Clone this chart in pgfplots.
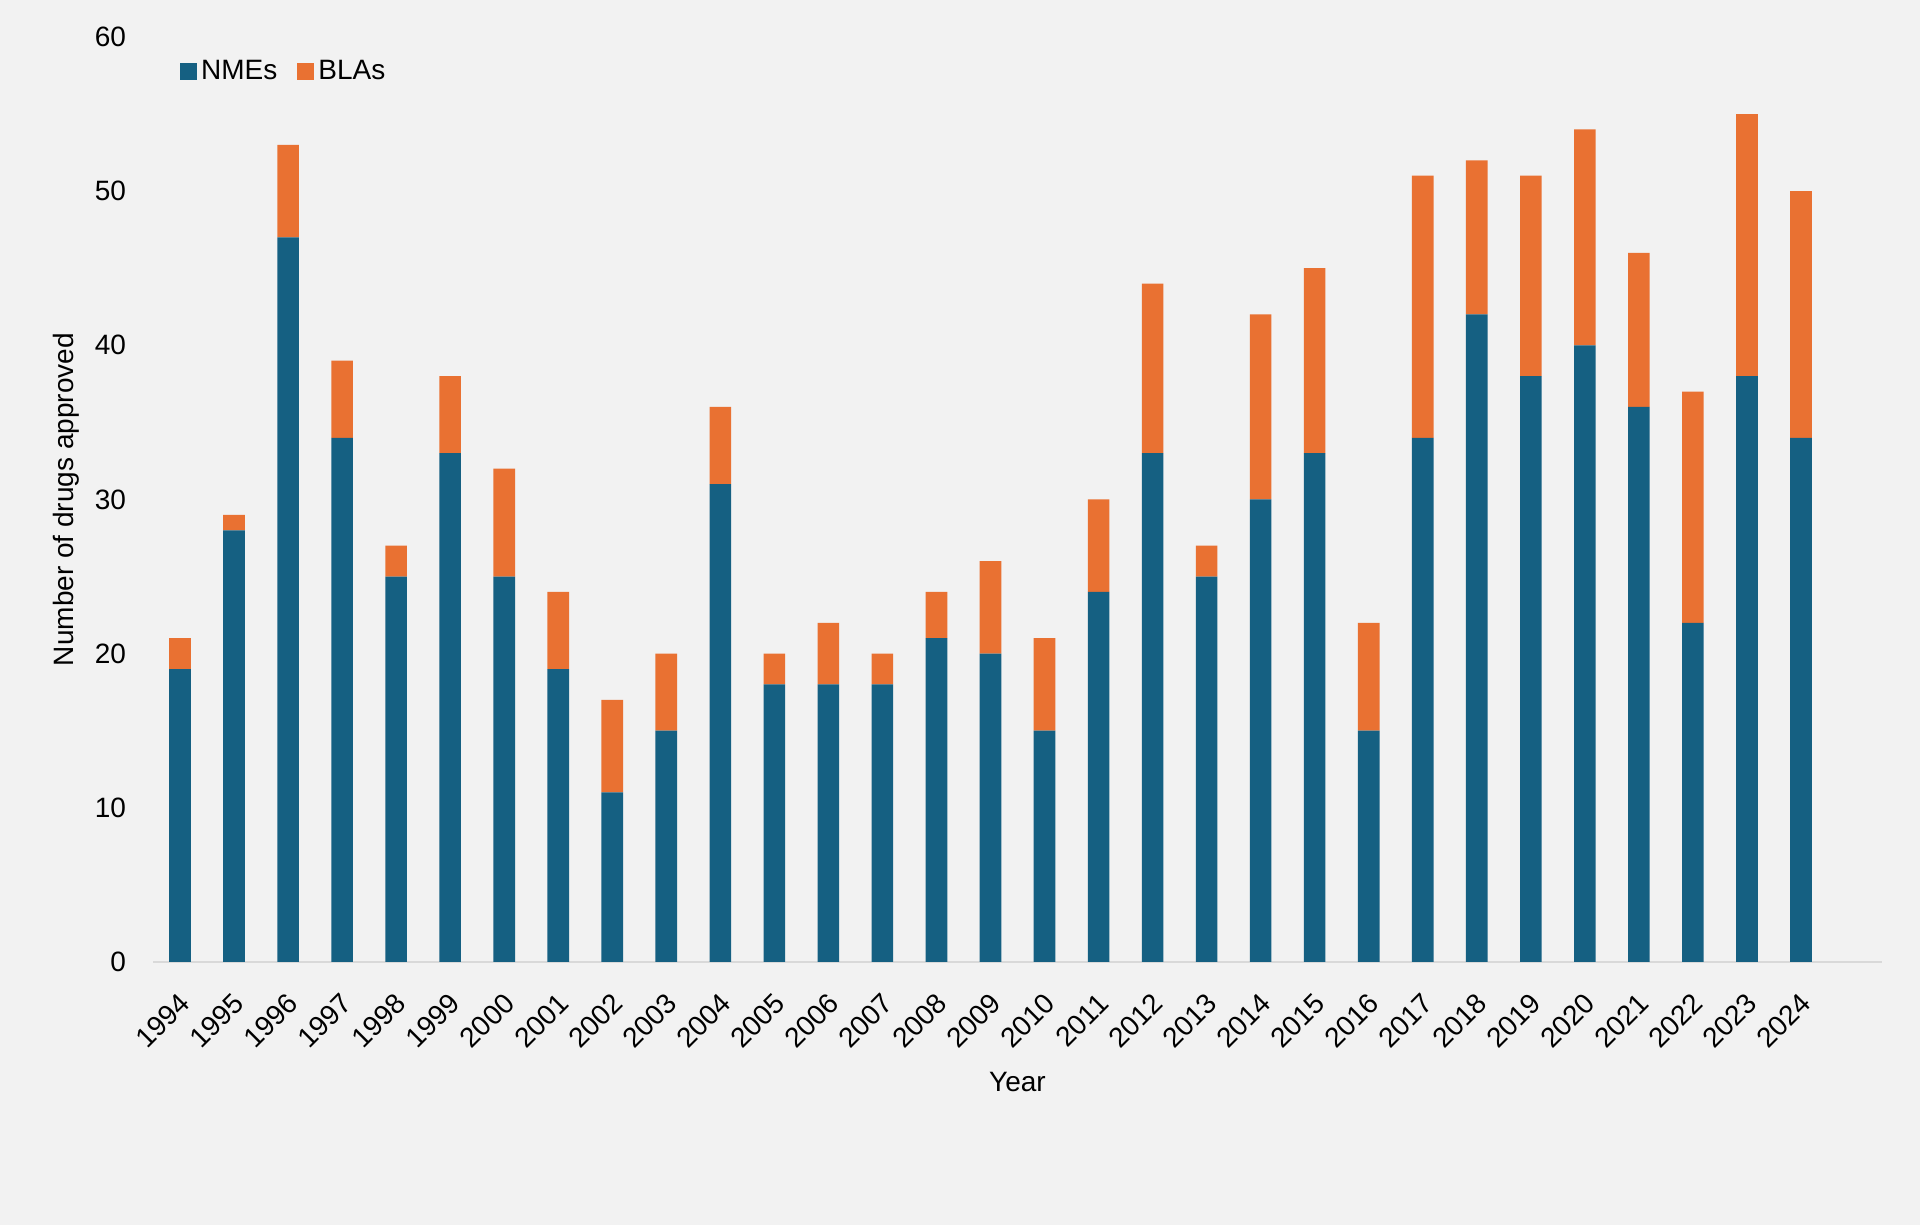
\documentclass[border=0pt]{standalone}
\usepackage{pgfplots}
\usepackage{pgfplotstable}
\pgfplotsset{compat=1.18}
\usepackage{fontspec}
\setmainfont{Liberation Sans}

\definecolor{nme}{HTML}{156082}
\definecolor{bla}{HTML}{E97132}
\definecolor{bg}{HTML}{F2F2F2}
\definecolor{axisgray}{HTML}{D9D9D9}

% NMEs and BLAs approved per year
\pgfplotstableread{
x year nme bla
0  1994 19 2
1  1995 28 1
2  1996 47 6
3  1997 34 5
4  1998 25 2
5  1999 33 5
6  2000 25 7
7  2001 19 5
8  2002 11 6
9  2003 15 5
10 2004 31 5
11 2005 18 2
12 2006 18 4
13 2007 18 2
14 2008 21 3
15 2009 20 6
16 2010 15 6
17 2011 24 6
18 2012 33 11
19 2013 25 2
20 2014 30 12
21 2015 33 12
22 2016 15 7
23 2017 34 17
24 2018 42 10
25 2019 38 13
26 2020 40 14
27 2021 36 10
28 2022 22 15
29 2023 38 17
30 2024 34 16
}\drugs

\begin{document}
\begin{tikzpicture}[font=\fontsize{14}{17}\selectfont]
    \fill[bg] (0,0) rectangle (960pt,612.5pt);
    \path[use as bounding box] (0,0) rectangle (960pt,612.5pt);
    \begin{axis}[
        at={(76.5pt,131.5pt)}, anchor=south west,
        scale only axis,
        width=864.5pt, height=462.5pt,
        xmin=-0.5, xmax=31.5,
        ymin=0, ymax=60,
        ybar stacked, bar width=0.4,
        axis x line*=bottom, axis y line*=left,
        x axis line style={draw=axisgray, line width=0.9pt},
        y axis line style={draw=none},
        major tick length=0pt,
        xtick={0,...,30},
        xticklabels from table={\drugs}{year},
        ytick={0,10,...,60},
        /pgf/number format/assume math mode=true,
        tick label style={font=\fontsize{14}{17}\selectfont, text=black},
        x tick label style={xshift=-1pt, yshift=-10pt, rotate=45, anchor=north east},
        y tick label style={xshift=-10pt},
        xlabel={Year},
        ylabel={Number of drugs approved},
        label style={font=\fontsize{14}{17}\selectfont},
        x label style={at={(axis description cs:0.5,-0.1297)}, anchor=center},
        y label style={at={(axis description cs:-0.0503,0.5)}, anchor=center},
        legend columns=2,
        legend style={at={(rel axis cs:0.012,0.963)}, anchor=west,
            draw=none, fill=none, font=\fontsize{14}{17}\selectfont,
            /tikz/every even column/.append style={column sep=8pt}},
        legend image code/.code={\fill[#1] (0pt,-4.25pt) rectangle (8.5pt,4.25pt);},
    ]
        \addplot[fill=nme, draw=none] table[x=x, y=nme] {\drugs};
        \addplot[fill=bla, draw=none] table[x=x, y=bla] {\drugs};
        \legend{NMEs, BLAs}
    \end{axis}
\end{tikzpicture}
\end{document}
